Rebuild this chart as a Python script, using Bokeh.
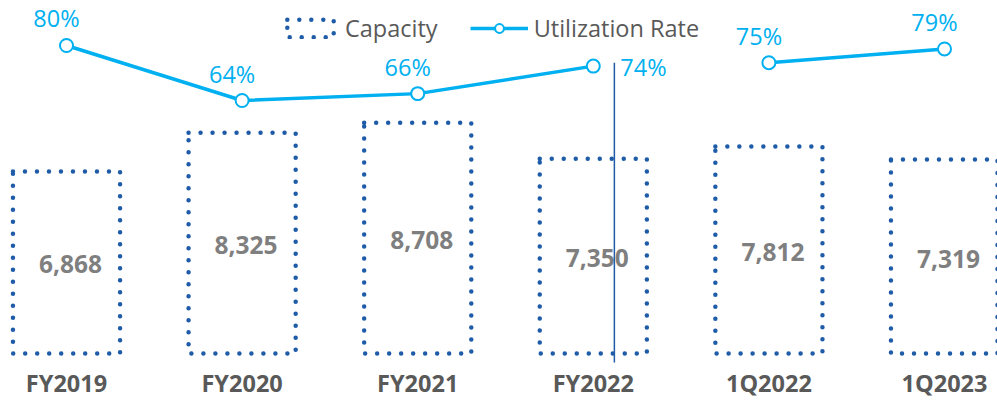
from bokeh.plotting import figure
from bokeh.models import Range1d, Legend, LegendItem
from bokeh.core.properties import value
from bokeh.embed import file_html
from bokeh.resources import INLINE

categories = ["FY2019", "FY2020", "FY2021", "FY2022", "1Q2022", "1Q2023"]
capacity = [6868, 8325, 8708, 7350, 7812, 7319]
utilization = [80, 64, 66, 74, 75, 79]
fy_count = 4  # first four are fiscal years, last two quarters

FONT = "Open Sans"
BLUE = "#1f5ca8"
CYAN = "#00b0f0"

xs = list(range(len(categories)))

p = figure(width=997, height=400, output_backend="svg", toolbar_location=None,
           x_range=Range1d(-0.3759, 5.3018), y_range=Range1d(-1774, 13320),
           x_axis_location=None, y_axis_location=None, min_border=0)
p.extra_y_ranges = {"rate": Range1d(-23.27, 93.09)}
p.outline_line_color = None
p.grid.visible = False
p.background_fill_color = "white"

bars = p.vbar(x=xs, top=capacity, bottom=0, width=0.61, fill_color=None,
              line_color=BLUE, line_width=4.5, line_dash="0 12", line_cap="round")

# category labels under the bars
p.text(x=xs, y=[0] * len(xs), text=categories, text_align="center",
       text_baseline="middle", y_offset=30,
       text_font=value(FONT), text_font_style="bold", text_font_size="23.5px",
       text_color="#595959")

p.text(x=xs, y=[c / 2 for c in capacity], text=[f"{c:,}" for c in capacity],
       text_align="center", text_baseline="middle", x_offset=4, y_offset=2,
       text_font=value(FONT), text_font_style="bold", text_font_size="24.5px",
       text_color="#7f7f7f")

# divider between fiscal years and quarters
p.segment(x0=[fy_count - 0.88], y0=[-12.2], x1=[fy_count - 0.88], y1=[75],
          y_range_name="rate", line_color=BLUE, line_width=1.5)

line1 = p.line(x=xs[:fy_count], y=utilization[:fy_count], y_range_name="rate",
               line_color=CYAN, line_width=3.5)
line2 = p.line(x=xs[fy_count:], y=utilization[fy_count:], y_range_name="rate",
               line_color=CYAN, line_width=3.5)
pts = p.scatter(x=xs, y=utilization, y_range_name="rate", size=13,
                fill_color="white", line_color=CYAN, line_width=2)

idx_normal = [i for i in xs if i != fy_count - 1]
p.text(x=[xs[i] for i in idx_normal], y=[utilization[i] for i in idx_normal],
       text=[f"{utilization[i]}%" for i in idx_normal], y_range_name="rate",
       text_align="center", text_baseline="bottom", x_offset=-10, y_offset=-11,
       text_font=value(FONT), text_font_size="23.5px", text_color=CYAN)
i3 = fy_count - 1
p.text(x=[xs[i3]], y=[utilization[i3]], text=[f"{utilization[i3]}%"],
       y_range_name="rate", text_align="left", text_baseline="middle",
       x_offset=27, y_offset=1,
       text_font=value(FONT), text_font_size="23.5px", text_color=CYAN)

legend = Legend(items=[LegendItem(label="Capacity", renderers=[bars]),
                       LegendItem(label="Utilization Rate", renderers=[line1, pts])],
                orientation="horizontal", location=(281, 356),
                background_fill_alpha=0, border_line_color=None, padding=0, margin=0,
                spacing=32, label_standoff=6, glyph_width=58, glyph_height=22,
                label_height=20,
                label_text_font=FONT, label_text_font_size="23.5px",
                label_text_color="#595959")
p.add_layout(legend)

open("out.html", "w").write(file_html(p, INLINE))
